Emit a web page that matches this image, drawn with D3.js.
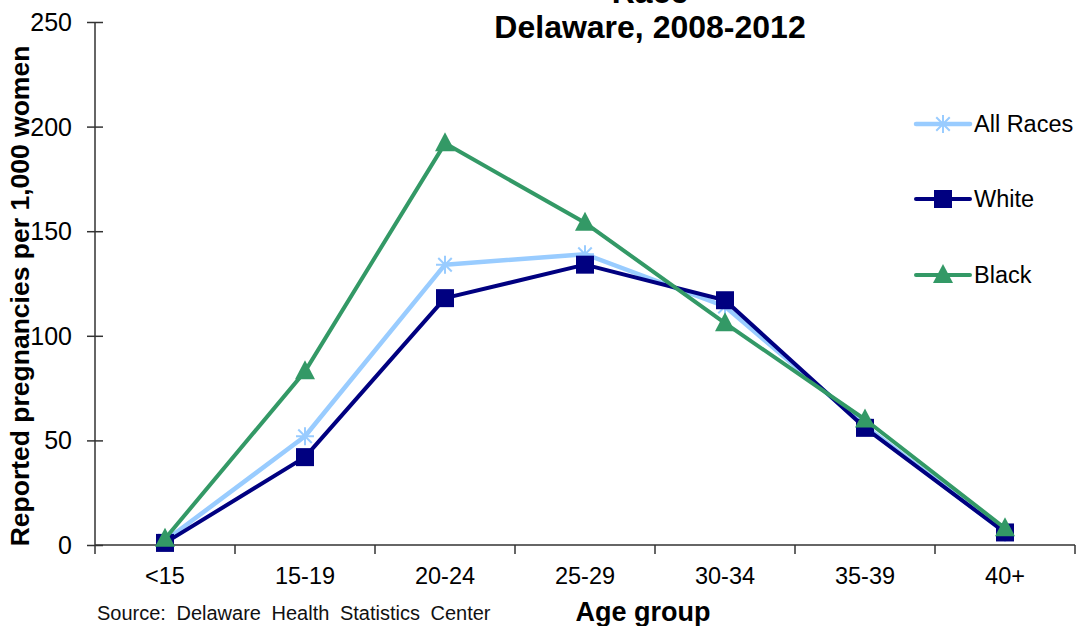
<!DOCTYPE html>
<html><head><meta charset="utf-8">
<script src="https://cdn.jsdelivr.net/npm/d3@7"></script>
<style>body{margin:0;background:#fff}svg{display:block;font-family:"Liberation Sans",Arial,sans-serif}</style>
</head><body><svg id="c" width="1084" height="626"></svg>
<script>
const categories = ["<15","15-19","20-24","25-29","30-34","35-39","40+"];
const allRaces = [2, 52, 134, 139, 114, 57, 6];
const white = [1, 42, 118, 134, 117, 56, 6];
const black = [3, 83, 192, 154, 106, 60, 8];
const yTicks = [0, 50, 100, 150, 200, 250];
const seriesNames = ["All Races", "White", "Black"];

const svg = d3.select("#c");
const m = {l:95, r:1075, t:22, b:545};
const x = d3.scaleBand().domain(categories).range([m.l, m.r]);
const y = d3.scaleLinear().domain([0,250]).range([m.b, m.t]);
const axisCol = "#333";

// y axis
const ya = svg.append("g").attr("transform",`translate(${m.l},0)`)
  .call(d3.axisLeft(y).tickValues(yTicks).tickSize(8).tickPadding(12));
ya.select(".domain").attr("stroke",axisCol).attr("stroke-width",1.5).attr("d",`M0,${m.t}V${m.b}`);
ya.selectAll(".tick line").attr("stroke",axisCol).attr("stroke-width",1.5).attr("x1",8).attr("x2",-8);
ya.selectAll(".tick text").attr("font-size",25).attr("fill","#000").attr("x",-23).attr("dy","0.34em");

// x axis
const xa = svg.append("g").attr("transform",`translate(0,${m.b})`)
  .call(d3.axisBottom(x).tickSize(0).tickPadding(22));
xa.select(".domain").attr("stroke",axisCol).attr("stroke-width",1.5).attr("d",`M${m.l},0H${m.r}`);
xa.selectAll(".tick text").attr("font-size",23.5).attr("fill","#000");
const bounds = categories.map(c=>x(c)).concat([m.r]);
xa.selectAll(".bt").data(bounds).enter().append("line")
  .attr("x1",d=>d).attr("x2",d=>d).attr("y1",0).attr("y2",9)
  .attr("stroke",axisCol).attr("stroke-width",1.5);

const cx = c => x(c) + x.bandwidth()/2;
const series = [
  {name:seriesNames[0], vals:allRaces, color:"#99CCFF", w:4.5, marker:"star"},
  {name:seriesNames[1], vals:white, color:"#000080", w:4, marker:"square"},
  {name:seriesNames[2], vals:black, color:"#339966", w:4, marker:"triangle"}
];
const line = d3.line().x((d,i)=>cx(categories[i])).y(d=>y(d));

function drawMarker(g, type, px, py, color){
  if(type==="square"){
    g.append("rect").attr("x",px-9).attr("y",py-9).attr("width",18).attr("height",18).attr("fill",color);
  } else if(type==="triangle"){
    g.append("path").attr("d",`M${px},${py-11}L${px+10},${py+8}L${px-10},${py+8}Z`).attr("fill",color);
  } else {
    const r=9;
    const p = `M${px-r},${py}H${px+r}M${px-r*0.75},${py-r*0.75}L${px+r*0.75},${py+r*0.75}M${px-r*0.75},${py+r*0.75}L${px+r*0.75},${py-r*0.75}M${px},${py-r}V${py+r}`;
    g.append("path").attr("d",p).attr("stroke",color).attr("stroke-width",2).attr("fill","none");
  }
}

series.forEach(s=>{
  const g = svg.append("g");
  g.append("path").datum(s.vals).attr("d",line).attr("fill","none")
    .attr("stroke",s.color).attr("stroke-width",s.w).attr("stroke-linejoin","round");
  s.vals.forEach((v,i)=>drawMarker(g, s.marker, cx(categories[i]), y(v), s.color));
});

// legend
const ly = [124, 199, 275];
series.forEach((s,i)=>{
  const g = svg.append("g");
  g.append("line").attr("x1",916).attr("x2",970).attr("y1",ly[i]).attr("y2",ly[i])
    .attr("stroke",s.color).attr("stroke-width",s.w).attr("stroke-linecap","round");
  drawMarker(g, s.marker, 943, ly[i], s.color);
  g.append("text").attr("x",974).attr("y",ly[i]+8).attr("font-size",23.5).text(s.name);
});

// titles
svg.append("text").attr("x",650).attr("y",3).attr("text-anchor","middle")
  .attr("font-size",32).attr("font-weight","bold").text("Race");
svg.append("text").attr("x",650).attr("y",38).attr("text-anchor","middle")
  .attr("font-size",32).attr("font-weight","bold").text("Delaware, 2008-2012");
svg.append("text").attr("transform","translate(29,296) rotate(-90)").attr("text-anchor","middle")
  .attr("font-size",26.5).attr("font-weight","bold").text("Reported pregnancies per 1,000 women");
svg.append("text").attr("x",643).attr("y",621).attr("text-anchor","middle")
  .attr("font-size",27).attr("font-weight","bold").text("Age group");
svg.append("text").attr("x",97).attr("y",620).attr("font-size",20).attr("word-spacing",5)
  .attr("fill","#111").text("Source: Delaware Health Statistics Center");
</script></body></html>
